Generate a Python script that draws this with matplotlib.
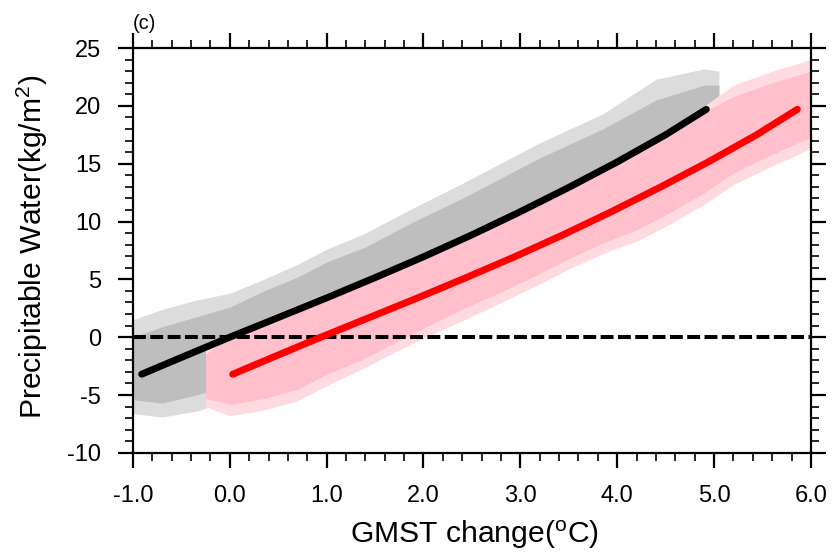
import numpy as np
import matplotlib
matplotlib.use("Agg")
import matplotlib.pyplot as plt
from matplotlib.ticker import MultipleLocator

plt.rcParams['font.family'] = ['Liberation Sans', 'DejaVu Sans']
plt.rcParams['mathtext.fontset'] = 'custom'
plt.rcParams['mathtext.rm'] = 'Liberation Sans'
plt.rcParams['mathtext.it'] = 'Liberation Sans'
plt.rcParams['axes.unicode_minus'] = False

# fitted curves
black_x = [-0.91, -0.5, 0.0, 0.5, 1.0, 1.5, 2.0, 2.5, 3.0, 3.5, 4.0, 4.5, 4.92]
black_y = [-3.2, -1.75, 0.0, 1.7, 3.4, 5.15, 6.95, 8.85, 10.85, 12.95, 15.15, 17.5, 19.7]
red_x = [0.03, 0.44, 0.94, 1.44, 1.94, 2.44, 2.94, 3.44, 3.94, 4.44, 4.94, 5.44, 5.86]
red_y = [-3.2, -1.75, 0.0, 1.7, 3.4, 5.15, 6.95, 8.85, 10.85, 12.95, 15.15, 17.5, 19.7]

# gray scatter cloud: sparse outer edge and dense core
gray_x = [-1.0, -0.7, -0.35, 0.0, 0.35, 0.7, 1.0, 1.4, 1.9, 2.4, 3.2, 3.85, 4.4, 4.9, 5.05]
gray_out_hi = [1.5, 2.4, 3.2, 3.8, 5.0, 6.3, 7.6, 9.0, 11.2, 13.3, 16.8, 19.3, 22.3, 23.2, 23.0]
gray_out_lo = [-6.6, -6.9, -6.4, -5.5, -3.5, -2.5, -1.5, 0.0, 2.0, 4.0, 7.0, 9.5, 12.0, 14.0, 14.0]
gray_core_hi = [0.0, 0.9, 1.75, 2.6, 4.0, 5.2, 6.5, 7.8, 10.0, 12.0, 15.5, 18.0, 20.5, 21.8, 21.8]
gray_core_lo = [-5.4, -5.7, -5.0, -4.2, -3.0, -2.0, -1.0, 0.5, 2.5, 4.5, 7.5, 10.0, 12.5, 14.5, 14.5]

# pink scatter cloud
pink_x = [-0.25, 0.0, 0.35, 0.7, 1.0, 1.4, 1.7, 2.1, 2.5, 2.8, 3.2, 3.5, 3.9, 4.2, 4.55, 4.9, 5.2, 5.6, 6.0]
pink_out_hi = [-1.0, 0.3, 1.6, 2.8, 3.8, 5.1, 6.1, 7.6, 9.1, 10.3, 11.8, 13.0, 14.7, 16.0, 17.6, 20.0, 21.8, 23.0, 24.0]
pink_out_lo = [-6.0, -6.8, -6.3, -5.5, -4.2, -2.6, -1.3, 0.3, 1.8, 3.0, 4.6, 5.9, 7.4, 8.3, 9.8, 11.5, 13.2, 14.8, 16.3]
pink_core_hi = [-1.5, 0.2, 1.5, 2.7, 3.7, 5.0, 6.0, 7.5, 9.0, 10.2, 11.7, 12.9, 14.6, 15.9, 17.5, 19.5, 20.8, 22.0, 23.0]
pink_core_lo = [-5.3, -5.8, -5.3, -4.5, -3.2, -1.8, -0.5, 1.2, 2.8, 3.9, 5.5, 6.8, 8.3, 9.3, 10.8, 12.5, 14.2, 15.8, 17.3]

xticks = [-1.0, 0.0, 1.0, 2.0, 3.0, 4.0, 5.0, 6.0]
yticks = [-10, -5, 0, 5, 10, 15, 20, 25]

fig = plt.figure(figsize=(8.36, 5.55), dpi=100)
ax = fig.add_axes([0.159, 0.184, 0.811, 0.7295])

ax.fill_between(gray_x, gray_out_lo, gray_out_hi, color='#dcdcdc', lw=0)
ax.fill_between(gray_x, gray_core_lo, gray_core_hi, color='#bebebe', lw=0)
ax.fill_between(pink_x, pink_out_lo, pink_out_hi, color='#ffdbe1', lw=0)
ax.fill_between(pink_x, pink_core_lo, pink_core_hi, color='#ffc0cb', lw=0)

ax.axhline(0, color='black', lw=2.9, ls=(0, (3.2, 1.1)))
ax.plot(black_x, black_y, color='black', lw=5, solid_capstyle='round')
ax.plot(red_x, red_y, color='red', lw=5, solid_capstyle='round')

ax.set_xlim(-1, 6)
ax.set_ylim(-10, 25)
ax.set_xticks(xticks)
ax.set_xticklabels(['%.1f' % v for v in xticks])
ax.set_yticks(yticks)
ax.xaxis.set_minor_locator(MultipleLocator(0.2))
ax.yaxis.set_minor_locator(MultipleLocator(1))
ax.tick_params(which='both', direction='out', top=True, right=True, labelsize=17)
ax.tick_params(which='major', length=10.8, width=1.6, pad=12)
ax.tick_params(which='minor', length=5.8, width=1.2)
for s in ax.spines.values():
    s.set_linewidth(1.6)

ax.set_xlabel(r'GMST change($^\mathrm{o}$C)', fontsize=21.7)
ax.set_ylabel(r'Precipitable Water(kg/m$^2$)', fontsize=21.7)
ax.xaxis.set_label_coords(0.504, -0.162)
ax.yaxis.set_label_coords(-0.122, 0.51)

ax.text(0.0, 1.047, '(c)', transform=ax.transAxes, fontsize=14.5, ha='left', va='baseline')

fig.savefig('out.png', dpi=100)
